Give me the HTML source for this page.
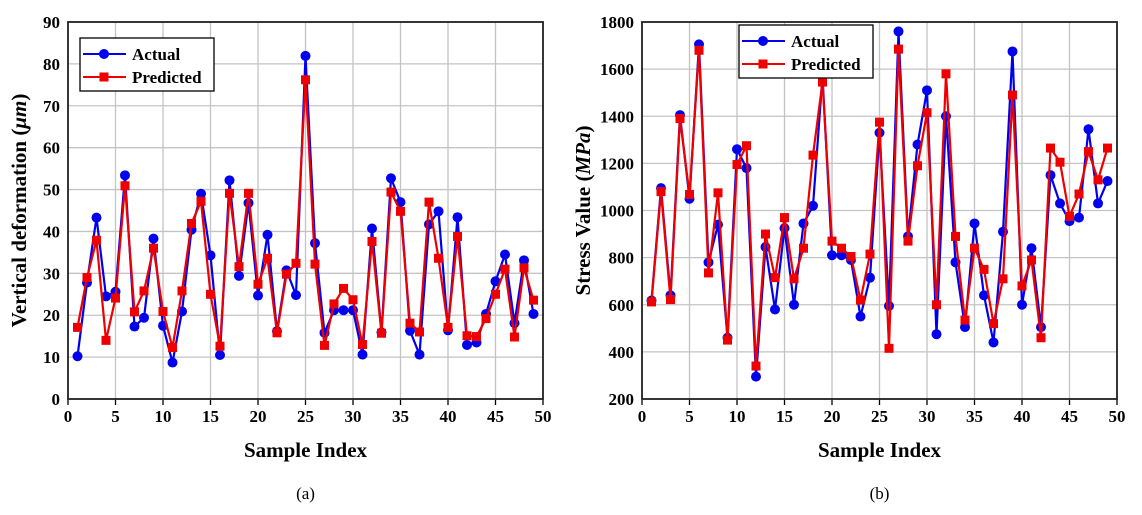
<!DOCTYPE html>
<html><head><meta charset="utf-8"><style>body{margin:0;background:#fff}svg{display:block}</style></head>
<body>
<svg id="s" width="1142" height="515" xmlns="http://www.w3.org/2000/svg" font-family="Liberation Serif, serif"></svg>
<script>
const S=document.getElementById('s');let h='';
function chart(x0,x1,y0,y1,ymin,ymax,step,A,P,ylabel,unit,leg,cap,lblx){
 const X=v=>x0+(x1-x0)*v/50, Y=v=>y1-(y1-y0)*(v-ymin)/(ymax-ymin);
 for(let v=0;v<=50;v+=5){h+=`<line x1="${X(v)}" x2="${X(v)}" y1="${y0}" y2="${y1}" stroke="#c4c4c4" stroke-width="1.3"/>`;
  h+=`<line x1="${X(v)}" x2="${X(v)}" y1="${y1}" y2="${y1+6}" stroke="#000" stroke-width="1.3"/>`;
  h+=`<text x="${X(v)}" y="${y1+23}" font-size="17" font-weight="bold" text-anchor="middle">${v}</text>`;}
 for(let v=ymin;v<=ymax;v+=step){h+=`<line x1="${x0}" x2="${x1}" y1="${Y(v)}" y2="${Y(v)}" stroke="#c4c4c4" stroke-width="1.3"/>`;
  h+=`<text x="${x0-8}" y="${Y(v)+6}" font-size="17" font-weight="bold" text-anchor="end">${v}</text>`;}
 h+=`<rect x="${x0}" y="${y0}" width="${x1-x0}" height="${y1-y0}" fill="none" stroke="#222" stroke-width="1.8"/>`;
 const pa=A.map((v,i)=>X(i+1)+','+Y(v)).join(' '), pp=P.map((v,i)=>X(i+1)+','+Y(v)).join(' ');
 h+=`<polyline points="${pa}" fill="none" stroke="#0000ee" stroke-width="2.2"/>`;
 A.forEach((v,i)=>h+=`<circle cx="${X(i+1)}" cy="${Y(v)}" r="5" fill="#0000ee"/>`);
 h+=`<polyline points="${pp}" fill="none" stroke="#ee0000" stroke-width="2.2"/>`;
 P.forEach((v,i)=>h+=`<rect x="${X(i+1)-4.5}" y="${Y(v)-4.5}" width="9" height="9" fill="#ee0000"/>`);
 const [lx,ly]=leg;
 h+=`<rect x="${lx}" y="${ly}" width="134" height="53" fill="#fff" stroke="#000" stroke-width="1.3"/>`;
 h+=`<line x1="${lx+3}" x2="${lx+46}" y1="${ly+16}" y2="${ly+16}" stroke="#0000ee" stroke-width="2"/><circle cx="${lx+24}" cy="${ly+16}" r="5" fill="#0000ee"/>`;
 h+=`<line x1="${lx+3}" x2="${lx+46}" y1="${ly+39}" y2="${ly+39}" stroke="#ee0000" stroke-width="2"/><rect x="${lx+19.5}" y="${ly+34.5}" width="9" height="9" fill="#ee0000"/>`;
 h+=`<text x="${lx+52}" y="${ly+22}" font-size="17" font-weight="bold">Actual</text><text x="${lx+52}" y="${ly+45}" font-size="17" font-weight="bold">Predicted</text>`;
 const cx=(x0+x1)/2;
 h+=`<text x="${cx}" y="${y1+58}" font-size="21" font-weight="bold" text-anchor="middle">Sample Index</text>`;
 h+=`<text x="${cx}" y="${y1+100}" font-size="17" text-anchor="middle">${cap}</text>`;
 const my=(y0+y1)/2;
 h+=`<text transform="translate(${lblx},${my}) rotate(-90)" font-size="21" font-weight="bold" text-anchor="middle">${ylabel} (<tspan font-style="italic">${unit}</tspan>)</text>`;
}
chart(68,543,22,399,0,90,10,
[10.2,27.8,43.3,24.5,25.6,53.4,17.3,19.4,38.3,17.5,8.7,20.9,40.4,49,34.3,10.5,52.2,29.4,46.8,24.7,39.2,16.2,30.7,24.8,81.9,37.2,15.8,21.2,21.2,21.2,10.6,40.7,15.9,52.7,47,16.3,10.6,41.7,44.8,16.4,43.4,12.9,13.5,20.3,28.1,34.5,18.1,33.1,20.3],
[17.1,29,37.9,14,24.1,50.9,20.8,25.8,36,20.9,12.3,25.8,41.9,47.2,25,12.6,49.1,31.6,49.1,27.4,33.6,15.8,29.8,32.4,76.2,32.2,12.8,22.7,26.4,23.7,13,37.6,15.7,49.4,44.8,18.1,16,47,33.6,17.1,38.8,15.1,14.9,19.2,25,31,14.8,31.3,23.6],
'Vertical deformation','μm',[80,38],'(a)',26);
chart(642,1117,22,399,200,1800,200,
[618,1095,640,1405,1050,1705,780,940,460,1260,1180,295,845,580,925,600,945,1020,1570,810,810,790,550,715,1330,595,1760,890,1280,1510,475,1400,780,505,945,640,440,910,1675,600,840,505,1150,1030,955,970,1345,1030,1125],
[612,1080,622,1390,1068,1680,735,1075,450,1195,1275,340,900,715,970,710,840,1235,1545,870,840,805,620,815,1375,415,1685,870,1190,1415,600,1580,890,535,840,750,520,710,1490,680,790,460,1265,1205,975,1070,1250,1130,1265],
'Stress Value','MPa',[739,25],'(b)',590);
S.innerHTML=h;
</script>
</body></html>
